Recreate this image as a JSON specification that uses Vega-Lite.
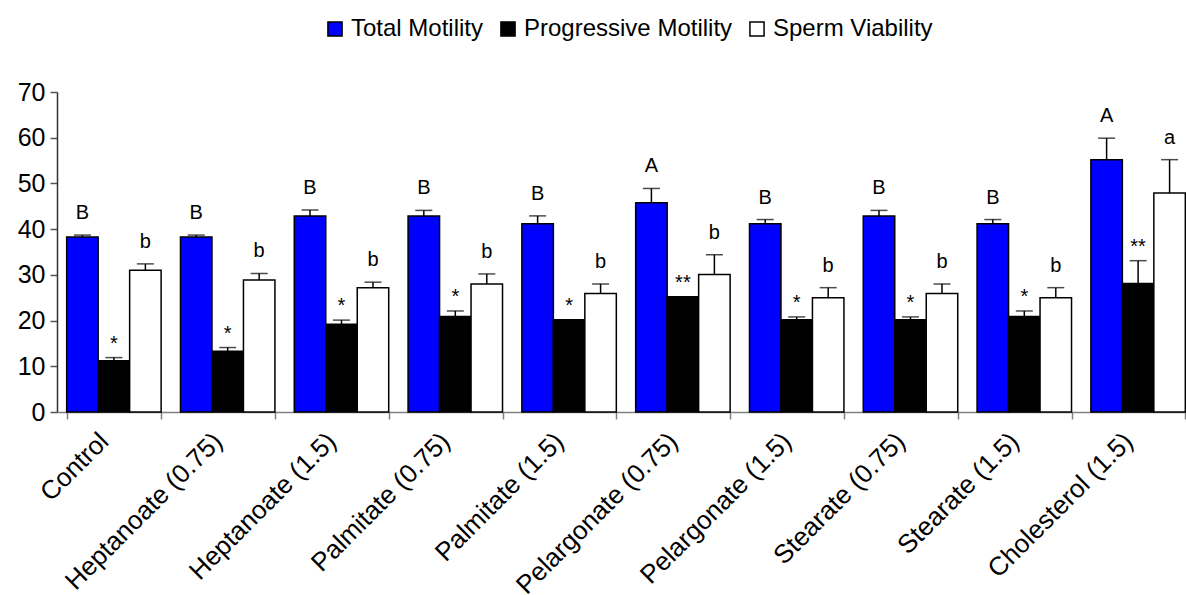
{
  "$schema": "https://vega.github.io/schema/vega-lite/v6.json",
  "autosize": {"type": "none"},
  "padding": {"left": 57, "top": 92, "right": 0, "bottom": 183},
  "width": 1129,
  "height": 320,
  "background": "white",
  "config": {
    "view": {"stroke": null},
    "font": "Liberation Sans",
    "axis": {"grid": false, "labelFont": "Liberation Sans", "labelColor": "black"}
  },
  "data": {
    "values": [
      {"group": "Control", "series": "Total Motility", "value": 38.3, "upper": 38.7, "label": "B"},
      {"group": "Control", "series": "Progressive Motility", "value": 11.2, "upper": 11.9, "label": "*"},
      {"group": "Control", "series": "Sperm Viability", "value": 31.0, "upper": 32.4, "label": "b"},
      {"group": "Heptanoate (0.75)", "series": "Total Motility", "value": 38.3, "upper": 38.7, "label": "B"},
      {"group": "Heptanoate (0.75)", "series": "Progressive Motility", "value": 13.3, "upper": 14.1, "label": "*"},
      {"group": "Heptanoate (0.75)", "series": "Sperm Viability", "value": 28.9, "upper": 30.3, "label": "b"},
      {"group": "Heptanoate (1.5)", "series": "Total Motility", "value": 42.9, "upper": 44.2, "label": "B"},
      {"group": "Heptanoate (1.5)", "series": "Progressive Motility", "value": 19.2, "upper": 20.1, "label": "*"},
      {"group": "Heptanoate (1.5)", "series": "Sperm Viability", "value": 27.2, "upper": 28.4, "label": "b"},
      {"group": "Palmitate (0.75)", "series": "Total Motility", "value": 42.9, "upper": 44.1, "label": "B"},
      {"group": "Palmitate (0.75)", "series": "Progressive Motility", "value": 20.9, "upper": 22.1, "label": "*"},
      {"group": "Palmitate (0.75)", "series": "Sperm Viability", "value": 28.0, "upper": 30.2, "label": "b"},
      {"group": "Palmitate (1.5)", "series": "Total Motility", "value": 41.2, "upper": 42.9, "label": "B"},
      {"group": "Palmitate (1.5)", "series": "Progressive Motility", "value": 20.2, "upper": 20.2, "label": "*"},
      {"group": "Palmitate (1.5)", "series": "Sperm Viability", "value": 25.9, "upper": 28.0, "label": "b"},
      {"group": "Pelargonate (0.75)", "series": "Total Motility", "value": 45.8, "upper": 48.9, "label": "A"},
      {"group": "Pelargonate (0.75)", "series": "Progressive Motility", "value": 25.2, "upper": 25.2, "label": "**"},
      {"group": "Pelargonate (0.75)", "series": "Sperm Viability", "value": 30.1, "upper": 34.4, "label": "b"},
      {"group": "Pelargonate (1.5)", "series": "Total Motility", "value": 41.2, "upper": 42.1, "label": "B"},
      {"group": "Pelargonate (1.5)", "series": "Progressive Motility", "value": 20.2, "upper": 20.8, "label": "*"},
      {"group": "Pelargonate (1.5)", "series": "Sperm Viability", "value": 25.0, "upper": 27.2, "label": "b"},
      {"group": "Stearate (0.75)", "series": "Total Motility", "value": 42.9, "upper": 44.1, "label": "B"},
      {"group": "Stearate (0.75)", "series": "Progressive Motility", "value": 20.2, "upper": 20.8, "label": "*"},
      {"group": "Stearate (0.75)", "series": "Sperm Viability", "value": 25.9, "upper": 28.0, "label": "b"},
      {"group": "Stearate (1.5)", "series": "Total Motility", "value": 41.2, "upper": 42.1, "label": "B"},
      {"group": "Stearate (1.5)", "series": "Progressive Motility", "value": 20.9, "upper": 22.1, "label": "*"},
      {"group": "Stearate (1.5)", "series": "Sperm Viability", "value": 25.0, "upper": 27.2, "label": "b"},
      {"group": "Cholesterol (1.5)", "series": "Total Motility", "value": 55.2, "upper": 59.9, "label": "A"},
      {"group": "Cholesterol (1.5)", "series": "Progressive Motility", "value": 28.1, "upper": 33.1, "label": "**"},
      {"group": "Cholesterol (1.5)", "series": "Sperm Viability", "value": 47.9, "upper": 55.2, "label": "a"}
    ]
  },
  "encoding": {
    "x": {
      "field": "group",
      "type": "nominal",
      "sort": ["Control", "Heptanoate (0.75)", "Heptanoate (1.5)", "Palmitate (0.75)", "Palmitate (1.5)", "Pelargonate (0.75)", "Pelargonate (1.5)", "Stearate (0.75)", "Stearate (1.5)", "Cholesterol (1.5)"],
      "scale": {"range": [0, 1138], "paddingInner": 0.17, "paddingOuter": 0.085},
      "axis": {
        "title": null,
        "labelAngle": -45,
        "labelAlign": "right",
        "labelBaseline": "middle",
        "labelFontSize": 26,
        "labelPadding": 18,
        "labelOffset": -10,
        "labelLimit": 500,
        "labelOverlap": false,
        "tickBand": "extent",
        "tickSize": 7,
        "tickColor": "#808080",
        "domainColor": "#808080",
        "domainWidth": 1.5,
        "tickWidth": 1.5
      }
    },
    "xOffset": {
      "field": "series",
      "type": "nominal",
      "sort": ["Total Motility", "Progressive Motility", "Sperm Viability"],
      "scale": {"paddingInner": 0, "paddingOuter": 0}
    }
  },
  "layer": [
    {
      "mark": {"type": "bar", "stroke": "black", "strokeWidth": 1.5},
      "encoding": {
        "y": {
          "field": "value",
          "type": "quantitative",
          "scale": {"domain": [0, 70], "nice": false},
          "axis": {
            "title": null,
            "values": [0, 10, 20, 30, 40, 50, 60, 70],
            "labelFontSize": 25,
            "tickSize": 7,
            "labelPadding": 5,
            "domainColor": "#333333",
            "tickColor": "#555555",
            "domainWidth": 1.5,
            "tickWidth": 1.5
          }
        },
        "fill": {
          "field": "series",
          "type": "nominal",
          "sort": ["Total Motility", "Progressive Motility", "Sperm Viability"],
          "scale": {"range": ["#0000FF", "#000000", "#FFFFFF"]},
          "legend": {
            "title": null,
            "orient": "none",
            "direction": "horizontal",
            "legendX": 266,
            "legendY": -75,
            "symbolType": "square",
            "symbolSize": 200,
            "symbolStrokeColor": "black",
            "symbolStrokeWidth": 1.5,
            "labelFontSize": 24,
            "labelColor": "black",
            "labelOffset": 4,
            "columnPadding": 12,
            "labelLimit": 400
          }
        }
      }
    },
    {
      "mark": {"type": "rule", "stroke": "black", "strokeWidth": 1.5},
      "encoding": {
        "y": {"field": "value", "type": "quantitative"},
        "y2": {"field": "upper"}
      }
    },
    {
      "mark": {"type": "tick", "color": "black", "size": 17, "thickness": 1.5, "orient": "horizontal"},
      "encoding": {
        "y": {"field": "upper", "type": "quantitative"}
      }
    },
    {
      "transform": [{"filter": "datum.series !== 'Progressive Motility'"}],
      "mark": {"type": "text", "fontSize": 20, "baseline": "alphabetic", "dy": -16, "color": "black"},
      "encoding": {
        "y": {"field": "upper", "type": "quantitative"},
        "text": {"field": "label"}
      }
    },
    {
      "transform": [{"filter": "datum.series === 'Progressive Motility'"}],
      "mark": {"type": "text", "fontSize": 20, "baseline": "alphabetic", "dy": -8, "color": "black"},
      "encoding": {
        "y": {"field": "upper", "type": "quantitative"},
        "text": {"field": "label"}
      }
    }
  ]
}
